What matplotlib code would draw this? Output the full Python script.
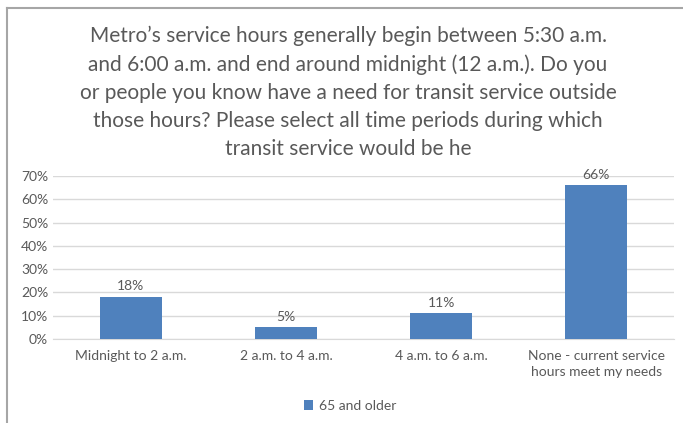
import numpy as np
import matplotlib.pyplot as plt
from matplotlib.lines import Line2D

categories = ['Midnight to 2 a.m.', '2 a.m. to 4 a.m.', '4 a.m. to 6 a.m.',
              'None - current service\nhours meet my needs']
values = [0.18, 0.05, 0.11, 0.66]
series_name = '65 and older'
yticks = [0, 0.1, 0.2, 0.3, 0.4, 0.5, 0.6, 0.7]

title = ("Metro\u2019s service hours generally begin between 5:30 a.m.\n"
         "and 6:00 a.m. and end around midnight (12 a.m.). Do you\n"
         "or people you know have a need for transit service outside\n"
         "those hours? Please select all time periods during which\n"
         "transit service would be he")

plt.rcParams['font.family'] = ['Lato', 'DejaVu Sans']
txt = '#595959'
bar_color = '#4f81bd'

fig = plt.figure(figsize=(6.83, 4.23), dpi=100)
ax = fig.add_axes([53/683, (423-339)/423, (674-53)/683, (339-176)/423])

x = np.arange(len(categories))
bars = ax.bar(x, values, width=0.4, color=bar_color, label=series_name, zorder=3)
for xi, v in zip(x, values):
    ax.text(xi, v + 0.02, f'{v:.0%}', ha='center', va='bottom', fontsize=10, color=txt)

ax.set_xlim(-0.5, len(categories) - 0.5)
ax.set_ylim(0, 0.7)
ax.set_yticks(yticks)
ax.set_yticklabels([f'{t:.0%}' for t in yticks])
ax.set_xticks(x)
ax.set_xticklabels(categories, linespacing=1.4)
ax.tick_params(length=0, labelsize=10, colors=txt)
ax.tick_params(axis='x', pad=8)
ax.grid(axis='y', color='#d9d9d9', linewidth=1, zorder=0)
for s in ['top', 'right', 'left']:
    ax.spines[s].set_visible(False)
ax.spines['bottom'].set_color('#d9d9d9')

fig.text(348/683, 1 - 26/423, title, ha='center', va='top', fontsize=15,
         color=txt, linespacing=1.5)

fig.legend(handles=[bars], loc='center', bbox_to_anchor=(350/683, 1 - 406/423),
           frameon=False, fontsize=10, labelcolor=txt, handlelength=0.7,
           handleheight=0.7, handletextpad=0.4)

# chart frame, cut off at the right and bottom
fig.add_artist(Line2D([7/683, 7/683], [0, 1 - 8/423], color='#a6a6a6', linewidth=1.5))
fig.add_artist(Line2D([7/683, 1], [1 - 8/423, 1 - 8/423], color='#a6a6a6', linewidth=1.5))

fig.savefig('out.png', dpi=100)
